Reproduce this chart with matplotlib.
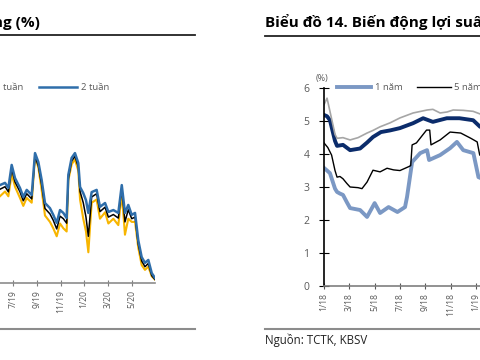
import matplotlib.pyplot as plt
from matplotlib.lines import Line2D

plt.rcParams['font.family'] = ['Open Sans', 'DejaVu Sans']

W, H = 480, 360

def fx(x):
    return x / W

def fy(y):
    return 1 - y / H

# ---- left chart data (months since 1/2019) : interbank rates
left_m = [4.89, 5.32, 5.60, 5.88, 6.16, 6.58, 6.86, 7.15, 7.57, 7.85, 8.13, 8.41,
          8.69, 9.11, 9.39, 9.68, 9.96, 10.24, 10.52, 10.66, 10.94, 11.22, 11.50,
          11.65, 11.92, 12.15, 12.35, 12.63, 13.05, 13.33, 13.76, 14.04, 14.46,
          14.88, 15.17, 15.44, 15.72, 16.01, 16.29, 16.56, 16.85, 17.13, 17.41,
          17.70, 17.97]
two_week = [3.05, 3.12, 2.96, 3.68, 3.27, 2.96, 2.68, 2.90, 2.74, 4.05, 3.77, 3.21,
            2.49, 2.33, 2.12, 1.87, 2.27, 2.18, 2.02, 3.37, 3.90, 4.05, 3.74,
            2.99, 2.80, 2.58, 2.18, 2.83, 2.90, 2.37, 2.49, 2.21, 2.27,
            2.18, 3.05, 2.18, 2.43, 2.12, 2.18, 1.33, 0.80, 0.62, 0.71,
            0.30, 0.15]
one_week = [2.92, 3.00, 2.84, 3.56, 3.15, 2.84, 2.56, 2.78, 2.62, 3.95, 3.65, 3.05,
            2.32, 2.15, 1.95, 1.68, 2.08, 2.00, 1.86, 3.25, 3.80, 3.95, 3.62,
            2.85, 2.50, 2.05, 1.45, 2.68, 2.78, 2.22, 2.36, 2.05, 2.13,
            2.02, 2.95, 1.90, 2.28, 2.00, 2.05, 1.20, 0.68, 0.50, 0.60,
            0.22, 0.10]
overnight = [2.70, 2.85, 2.70, 3.40, 3.00, 2.65, 2.40, 2.65, 2.50, 3.95, 3.60, 2.90,
             2.10, 1.90, 1.70, 1.45, 1.85, 1.70, 1.60, 3.20, 3.70, 3.85, 3.50,
             2.60, 2.00, 1.60, 0.95, 2.50, 2.60, 2.00, 2.20, 1.85, 2.00,
             1.80, 2.80, 1.50, 2.00, 1.90, 1.90, 1.10, 0.55, 0.40, 0.50,
             0.20, 0.10]
left_ticks = [0, 2, 4, 6, 8, 10, 12, 14, 16]
left_labels = ['1/19', '3/19', '5/19', '7/19', '9/19', '11/19', '1/20', '3/20', '5/20']

# ---- right chart data (months since 1/2018) : bond yields
gray_m = [0, 0.24, 0.47, 0.87, 1.03, 1.5, 2.06, 2.69, 3.4, 3.87, 4.43, 5.22, 6.0,
          7.04, 8.14, 8.6, 9.17, 9.72, 10.2, 10.99, 11.78, 12.33, 12.8]
y15 = [5.5, 5.7, 5.3, 4.6, 4.48, 4.5, 4.43, 4.5, 4.64, 4.72, 4.83, 4.95, 5.1,
       5.25, 5.34, 5.36, 5.25, 5.28, 5.34, 5.33, 5.3, 5.22, 5.2]
navy_m = [0, 0.24, 0.47, 0.87, 1.03, 1.5, 2.06, 2.85, 3.4, 3.87, 4.5, 5.22, 6.0,
          7.04, 7.83, 8.6, 9.7, 10.7, 11.78, 12.33, 12.8]
y10 = [5.19, 5.15, 5.03, 4.4, 4.25, 4.28, 4.12, 4.17, 4.35, 4.52, 4.67, 4.72, 4.79,
       4.94, 5.09, 4.98, 5.09, 5.09, 5.03, 4.83, 4.8]
black_m = [0, 0.3, 0.6, 0.87, 1.03, 1.26, 1.5, 1.8, 2.06, 2.69, 3.0, 3.4, 3.87, 4.43,
           4.98, 5.5, 6.0, 6.7, 6.85, 6.96, 7.3, 8.1, 8.35, 8.45, 9.17, 9.96, 10.8,
           11.6, 12.1, 12.3, 12.8]
y5 = [4.34, 4.2, 3.97, 3.5, 3.3, 3.32, 3.25, 3.11, 3.0, 2.98, 2.95, 3.15, 3.51, 3.46,
      3.57, 3.52, 3.5, 3.62, 3.65, 4.28, 4.34, 4.73, 4.73, 4.28, 4.43, 4.67, 4.64,
      4.48, 4.37, 3.97, 3.9]
blue_m = [0, 0.24, 0.47, 0.87, 1.03, 1.26, 1.5, 1.8, 2.06, 2.85, 3.4, 4.0, 4.43, 5.1,
          5.8, 6.4, 6.56, 6.96, 7.6, 8.14, 8.3, 9.17, 9.96, 10.5, 11.0, 11.8, 12.2, 12.8]
y1 = [3.58, 3.5, 3.42, 2.95, 2.85, 2.8, 2.76, 2.54, 2.36, 2.3, 2.09, 2.51, 2.21, 2.39,
      2.24, 2.39, 2.7, 3.76, 4.03, 4.12, 3.82, 3.97, 4.18, 4.37, 4.12, 4.03, 3.3, 3.2]
right_ticks = list(range(0, 30, 2))
right_labels = ['1/18', '3/18', '5/18', '7/18', '9/18', '11/18', '1/19', '3/19', '5/19',
                '7/19', '9/19', '11/19', '1/20', '3/20', '5/20']

tick_col = '#595959'

fig = plt.figure(figsize=(4.8, 3.6), dpi=100)

# ---------------- left chart ----------------
axL = fig.add_axes([fx(-58), fy(282.7), fx(213.3), 192 / H])
axL.plot(left_m, overnight, color='#F7B500', lw=1.5, label='Qua đêm')
axL.plot(left_m, one_week, color='black', lw=1.1, label='1 tuần')
axL.plot(left_m, two_week, color='#2F6EAA', lw=1.8, label='2 tuần')
axL.set_xlim(0, 18)
axL.set_ylim(0, 6)
axL.set_yticks([])
axL.set_xticks(left_ticks)
axL.set_xticklabels(left_labels, rotation=90, fontsize=6.2, color=tick_col)
axL.tick_params(axis='x', direction='inout', length=4, color='#7f7f7f', pad=3)
for s in ['top', 'right', 'left']:
    axL.spines[s].set_visible(False)
axL.spines['bottom'].set_color('#8c8c8c')
axL.spines['bottom'].set_linewidth(1.2)
axL.set_facecolor('none')
fig.legend(handles=axL.get_lines(), loc='center right', ncol=3, frameon=False,
           bbox_to_anchor=(fx(109), fy(88)), fontsize=6.8, labelcolor=tick_col,
           handlelength=4.0, handletextpad=0.4, columnspacing=1.7,
           borderpad=0, borderaxespad=0)

# ---------------- right chart ----------------
axR = fig.add_axes([fx(324), fy(285.7), fx(376), (285.7 - 88.3) / H])
axR.plot(blue_m, y1, color='#7B98C4', lw=2.8, label='1 năm')
axR.plot(black_m, y5, color='black', lw=1.0, label='5 năm')
axR.plot(navy_m, y10, color='#0B2C6B', lw=2.8, label='10 năm')
axR.plot(gray_m, y15, color='#A6A6A6', lw=1.2, label='15 năm')
axR.set_xlim(0, 29.7)
axR.set_ylim(0, 6)
axR.set_yticks(range(0, 7))
axR.tick_params(axis='y', direction='inout', length=7, labelsize=7.5,
                labelcolor=tick_col, pad=7)
axR.set_xticks(right_ticks)
axR.set_xticklabels(right_labels, rotation=90, fontsize=6.2, color=tick_col)
axR.tick_params(axis='x', direction='inout', length=4, color='#555555', pad=3)
for s in ['top', 'right']:
    axR.spines[s].set_visible(False)
axR.spines['left'].set_linewidth(1.2)
axR.spines['bottom'].set_color('#7f7f7f')
axR.spines['bottom'].set_linewidth(1.2)
axR.set_facecolor('none')
fig.legend(handles=axR.get_lines(), loc='center left', ncol=4, frameon=False,
           bbox_to_anchor=(fx(337), fy(88)), fontsize=6.8, labelcolor=tick_col,
           handlelength=3.6, handletextpad=0.4, columnspacing=1.5,
           borderpad=0, borderaxespad=0)
fig.text(fx(322), fy(78), '(%)', fontsize=6.5, color=tick_col, ha='center', va='center')

# ---------------- titles, rules, source ----------------
fig.text(fx(40), fy(22), 'Biểu đồ 13. Lãi suất liên ngân hàng (%)', fontsize=11,
         fontweight='bold', ha='right', va='center')
fig.text(fx(265), fy(22), 'Biểu đồ 14. Biến động lợi suất trái phiếu Chính phủ (%)',
         fontsize=11, fontweight='bold', ha='left', va='center')
fig.add_artist(Line2D([0, fx(195)], [fy(35), fy(35)], color='#222222', lw=1.3))
fig.add_artist(Line2D([fx(265), 1], [fy(36), fy(36)], color='#222222', lw=1.3))
fig.add_artist(Line2D([0, fx(195)], [fy(329), fy(329)], color='#8c8c8c', lw=1.5))
fig.add_artist(Line2D([fx(265), 1], [fy(328.5), fy(328.5)], color='#8c8c8c', lw=1.5))
fig.text(fx(265), fy(340), 'Nguồn: TCTK, KBSV', fontsize=8.3, ha='left', va='center',
         color='#222222')

fig.savefig('out.png', dpi=100)
